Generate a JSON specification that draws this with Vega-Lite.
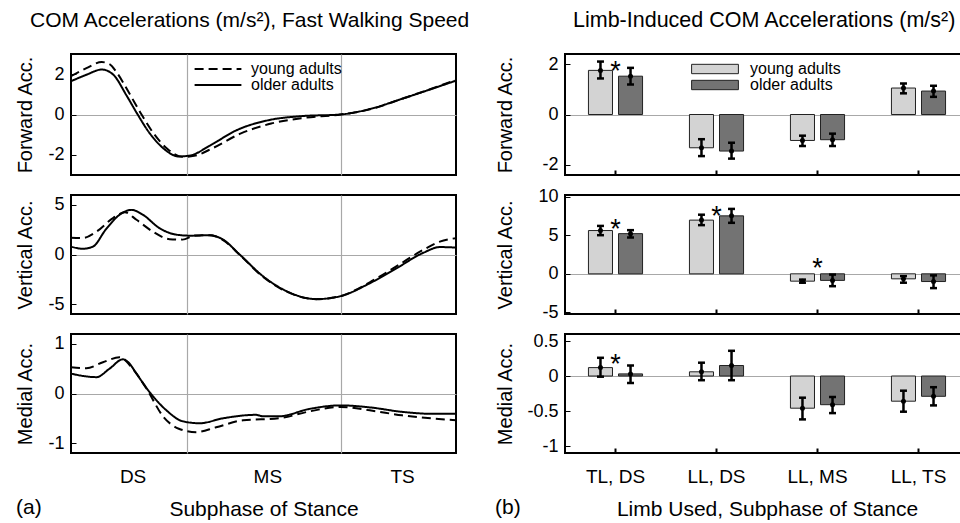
{
"$schema":"https://vega.github.io/schema/vega-lite/v6.json",
"padding":{"left":13,"top":9,"right":0,"bottom":0},
"config":{"font":"Liberation Sans","view":{"stroke":"black","strokeWidth":2},
 "axis":{"labelColor":"black","titleColor":"black","titleFontWeight":"normal","labelFontSize":18,"titleFontSize":20,"domain":false,"tickColor":"black","gridColor":"#a8a8a8","gridWidth":1.2,"labelOverlap":false},
 "title":{"fontSize":21,"fontWeight":"normal","color":"black"},
 "legend":{"labelFontSize":16,"labelColor":"black"}},
"datasets":{
"lines":[
{"p":"F","g":"older adults","x":0,"y":1.65},{"p":"F","g":"older adults","x":4,"y":1.97},{"p":"F","g":"older adults","x":8,"y":2.23},{"p":"F","g":"older adults","x":11,"y":1.97},{"p":"F","g":"older adults","x":14.4,"y":0.95},{"p":"F","g":"older adults","x":17,"y":0.1},{"p":"F","g":"older adults","x":20.4,"y":-0.92},{"p":"F","g":"older adults","x":24,"y":-1.68},{"p":"F","g":"older adults","x":28,"y":-2.08},{"p":"F","g":"older adults","x":31,"y":-2.03},{"p":"F","g":"older adults","x":36,"y":-1.55},{"p":"F","g":"older adults","x":43,"y":-0.78},{"p":"F","g":"older adults","x":51.6,"y":-0.27},{"p":"F","g":"older adults","x":60,"y":-0.08},{"p":"F","g":"older adults","x":70,"y":0.0},{"p":"F","g":"older adults","x":77.6,"y":0.27},{"p":"F","g":"older adults","x":86,"y":0.78},{"p":"F","g":"older adults","x":94,"y":1.29},{"p":"F","g":"older adults","x":100,"y":1.68},
{"p":"F","g":"young adults","x":0,"y":1.9},{"p":"F","g":"young adults","x":4,"y":2.3},{"p":"F","g":"young adults","x":8,"y":2.6},{"p":"F","g":"young adults","x":10,"y":2.5},{"p":"F","g":"young adults","x":12,"y":2.05},{"p":"F","g":"young adults","x":15,"y":1.1},{"p":"F","g":"young adults","x":18,"y":0.1},{"p":"F","g":"young adults","x":21.5,"y":-0.95},{"p":"F","g":"young adults","x":25,"y":-1.7},{"p":"F","g":"young adults","x":29,"y":-2.1},{"p":"F","g":"young adults","x":32,"y":-2.05},{"p":"F","g":"young adults","x":37,"y":-1.65},{"p":"F","g":"young adults","x":44,"y":-0.95},{"p":"F","g":"young adults","x":52,"y":-0.45},{"p":"F","g":"young adults","x":60,"y":-0.18},{"p":"F","g":"young adults","x":70,"y":0.0},{"p":"F","g":"young adults","x":78,"y":0.27},{"p":"F","g":"young adults","x":86,"y":0.78},{"p":"F","g":"young adults","x":94,"y":1.3},{"p":"F","g":"young adults","x":100,"y":1.72},
{"p":"V","g":"older adults","x":0,"y":0.8},{"p":"V","g":"older adults","x":3,"y":0.58},{"p":"V","g":"older adults","x":5.7,"y":0.8},{"p":"V","g":"older adults","x":9,"y":2.5},{"p":"V","g":"older adults","x":12.6,"y":4.0},{"p":"V","g":"older adults","x":15.7,"y":4.5},{"p":"V","g":"older adults","x":18.7,"y":4.0},{"p":"V","g":"older adults","x":23,"y":2.65},{"p":"V","g":"older adults","x":27.4,"y":2.0},{"p":"V","g":"older adults","x":31,"y":1.9},{"p":"V","g":"older adults","x":36,"y":1.95},{"p":"V","g":"older adults","x":39.5,"y":1.5},{"p":"V","g":"older adults","x":43.8,"y":0.0},{"p":"V","g":"older adults","x":49.9,"y":-2.2},{"p":"V","g":"older adults","x":56,"y":-3.7},{"p":"V","g":"older adults","x":63.7,"y":-4.5},{"p":"V","g":"older adults","x":70,"y":-4.2},{"p":"V","g":"older adults","x":77.6,"y":-2.9},{"p":"V","g":"older adults","x":84.5,"y":-1.4},{"p":"V","g":"older adults","x":91.4,"y":0.15},{"p":"V","g":"older adults","x":95.8,"y":0.75},{"p":"V","g":"older adults","x":100,"y":0.7},
{"p":"V","g":"young adults","x":0,"y":1.7},{"p":"V","g":"young adults","x":3,"y":1.65},{"p":"V","g":"young adults","x":6.6,"y":2.3},{"p":"V","g":"young adults","x":11,"y":3.7},{"p":"V","g":"young adults","x":14,"y":4.25},{"p":"V","g":"young adults","x":17,"y":3.5},{"p":"V","g":"young adults","x":21.3,"y":2.3},{"p":"V","g":"young adults","x":25.6,"y":1.55},{"p":"V","g":"young adults","x":29,"y":1.5},{"p":"V","g":"young adults","x":32,"y":1.9},{"p":"V","g":"young adults","x":36,"y":1.95},{"p":"V","g":"young adults","x":39.5,"y":1.45},{"p":"V","g":"young adults","x":44,"y":-0.1},{"p":"V","g":"young adults","x":50,"y":-2.3},{"p":"V","g":"young adults","x":56,"y":-3.75},{"p":"V","g":"young adults","x":63.7,"y":-4.5},{"p":"V","g":"young adults","x":70,"y":-4.2},{"p":"V","g":"young adults","x":77.6,"y":-2.8},{"p":"V","g":"young adults","x":84.5,"y":-1.2},{"p":"V","g":"young adults","x":91.4,"y":0.45},{"p":"V","g":"young adults","x":95.8,"y":1.3},{"p":"V","g":"young adults","x":100,"y":1.65},
{"p":"M","g":"older adults","x":0,"y":0.4},{"p":"M","g":"older adults","x":6.6,"y":0.33},{"p":"M","g":"older adults","x":10,"y":0.5},{"p":"M","g":"older adults","x":13.5,"y":0.69},{"p":"M","g":"older adults","x":15,"y":0.62},{"p":"M","g":"older adults","x":17,"y":0.4},{"p":"M","g":"older adults","x":20.4,"y":0.03},{"p":"M","g":"older adults","x":24.8,"y":-0.34},{"p":"M","g":"older adults","x":29,"y":-0.56},{"p":"M","g":"older adults","x":33.4,"y":-0.6},{"p":"M","g":"older adults","x":39.5,"y":-0.5},{"p":"M","g":"older adults","x":48,"y":-0.43},{"p":"M","g":"older adults","x":50,"y":-0.46},{"p":"M","g":"older adults","x":54,"y":-0.46},{"p":"M","g":"older adults","x":62,"y":-0.31},{"p":"M","g":"older adults","x":70,"y":-0.24},{"p":"M","g":"older adults","x":77.6,"y":-0.28},{"p":"M","g":"older adults","x":86,"y":-0.37},{"p":"M","g":"older adults","x":94,"y":-0.41},{"p":"M","g":"older adults","x":100,"y":-0.41},
{"p":"M","g":"young adults","x":0,"y":0.53},{"p":"M","g":"young adults","x":4,"y":0.51},{"p":"M","g":"young adults","x":8.3,"y":0.63},{"p":"M","g":"young adults","x":12.6,"y":0.73},{"p":"M","g":"young adults","x":16,"y":0.5},{"p":"M","g":"young adults","x":19.6,"y":0.1},{"p":"M","g":"young adults","x":24,"y":-0.47},{"p":"M","g":"young adults","x":28,"y":-0.71},{"p":"M","g":"young adults","x":32.5,"y":-0.78},{"p":"M","g":"young adults","x":37.7,"y":-0.68},{"p":"M","g":"young adults","x":44.7,"y":-0.54},{"p":"M","g":"young adults","x":54,"y":-0.5},{"p":"M","g":"young adults","x":62,"y":-0.36},{"p":"M","g":"young adults","x":70,"y":-0.27},{"p":"M","g":"young adults","x":77.6,"y":-0.34},{"p":"M","g":"young adults","x":86,"y":-0.44},{"p":"M","g":"young adults","x":100,"y":-0.54}
],
"bars":[
{"p":"F","c":"TL, DS","g":"young adults","v":1.75,"lo":1.43,"hi":2.1},
{"p":"F","c":"TL, DS","g":"older adults","v":1.52,"lo":1.19,"hi":1.85},
{"p":"F","c":"LL, DS","g":"young adults","v":-1.32,"lo":-1.65,"hi":-0.98},
{"p":"F","c":"LL, DS","g":"older adults","v":-1.45,"lo":-1.75,"hi":-1.12},
{"p":"F","c":"LL, MS","g":"young adults","v":-1.03,"lo":-1.25,"hi":-0.84},
{"p":"F","c":"LL, MS","g":"older adults","v":-1.0,"lo":-1.25,"hi":-0.76},
{"p":"F","c":"LL, TS","g":"young adults","v":1.05,"lo":0.84,"hi":1.23},
{"p":"F","c":"LL, TS","g":"older adults","v":0.93,"lo":0.7,"hi":1.14},
{"p":"V","c":"TL, DS","g":"young adults","v":5.6,"lo":5.0,"hi":6.2},
{"p":"V","c":"TL, DS","g":"older adults","v":5.2,"lo":4.7,"hi":5.65},
{"p":"V","c":"LL, DS","g":"young adults","v":6.95,"lo":6.3,"hi":7.65},
{"p":"V","c":"LL, DS","g":"older adults","v":7.5,"lo":6.6,"hi":8.4},
{"p":"V","c":"LL, MS","g":"young adults","v":-0.95,"lo":-1.15,"hi":-0.75},
{"p":"V","c":"LL, MS","g":"older adults","v":-0.85,"lo":-1.6,"hi":-0.1},
{"p":"V","c":"LL, TS","g":"young adults","v":-0.65,"lo":-1.15,"hi":-0.3},
{"p":"V","c":"LL, TS","g":"older adults","v":-1.0,"lo":-1.85,"hi":-0.2},
{"p":"M","c":"TL, DS","g":"young adults","v":0.12,"lo":-0.01,"hi":0.26},
{"p":"M","c":"TL, DS","g":"older adults","v":0.03,"lo":-0.1,"hi":0.15},
{"p":"M","c":"LL, DS","g":"young adults","v":0.06,"lo":-0.06,"hi":0.19},
{"p":"M","c":"LL, DS","g":"older adults","v":0.15,"lo":-0.06,"hi":0.36},
{"p":"M","c":"LL, MS","g":"young adults","v":-0.46,"lo":-0.62,"hi":-0.31},
{"p":"M","c":"LL, MS","g":"older adults","v":-0.41,"lo":-0.53,"hi":-0.3},
{"p":"M","c":"LL, TS","g":"young adults","v":-0.36,"lo":-0.51,"hi":-0.21},
{"p":"M","c":"LL, TS","g":"older adults","v":-0.29,"lo":-0.42,"hi":-0.16}
],
"stars":[
{"p":"F","c":"TL, DS","s":2.0},
{"p":"V","c":"TL, DS","s":6.7},
{"p":"V","c":"LL, DS","s":8.4},
{"p":"V","c":"LL, MS","s":1.65},
{"p":"M","c":"TL, DS","s":0.27}
]},
"spacing":23,
"hconcat":[
{"title":{"text":"COM Accelerations (m/s²), Fast Walking Speed","offset":22,"anchor":"start","frame":"group","dx":-41},
 "spacing":20,
 "bounds":"flush",
 "resolve":{"legend":{"strokeDash":"independent"}},
 "vconcat":[
 {"width":385,"height":121,"data":{"name":"lines"},"transform":[{"filter":"datum.p=='F'"}],
  "mark":{"type":"line","interpolate":"monotone","strokeWidth":2,"color":"black","clip":true},
  "encoding":{
   "x":{"field":"x","type":"quantitative","scale":{"domain":[0,100],"nice":false},"axis":{"values":[16,30,51,70,86],"labels":false,"title":null,"ticks":false,"grid":true,"gridOpacity":{"condition":{"test":"datum.value==30||datum.value==70","value":1},"value":0}}},
   "y":{"field":"y","type":"quantitative","scale":{"domain":[-3,3],"nice":false,"zero":false},"axis":{"values":[-2,0,2],"labelExpr":"''+datum.value","labelOverlap":false,"title":"Forward Acc.","titleX":-36,"tickSize":-5,"labelPadding":12,"grid":true,"gridOpacity":{"condition":{"test":"datum.value==0","value":1},"value":0}}},
   "strokeDash":{"field":"g","type":"nominal","scale":{"domain":["young adults","older adults"],"range":[[9,5],[1,0]]},"legend":{"orient":"none","legendX":139,"legendY":7,"title":null,"symbolType":"M-3.9,0H3.9","symbolSize":144,"symbolStrokeWidth":2,"symbolStrokeColor":"black","rowPadding":0,"labelOffset":25}}
  }},
 {"width":385,"height":119,"data":{"name":"lines"},"transform":[{"filter":"datum.p=='V'"}],
  "mark":{"type":"line","interpolate":"monotone","strokeWidth":2,"color":"black","clip":true},
  "encoding":{
   "x":{"field":"x","type":"quantitative","scale":{"domain":[0,100],"nice":false},"axis":{"values":[16,30,51,70,86],"labels":false,"title":null,"ticks":false,"grid":true,"gridOpacity":{"condition":{"test":"datum.value==30||datum.value==70","value":1},"value":0}}},
   "y":{"field":"y","type":"quantitative","scale":{"domain":[-6,6],"nice":false,"zero":false},"axis":{"values":[-5,0,5],"labelExpr":"''+datum.value","labelOverlap":false,"title":"Vertical Acc.","titleX":-36,"tickSize":-5,"labelPadding":12,"grid":true,"gridOpacity":{"condition":{"test":"datum.value==0","value":1},"value":0}}},
   "strokeDash":{"field":"g","type":"nominal","scale":{"domain":["young adults","older adults"],"range":[[9,5],[1,0]]},"legend":null}
  }},
 {"width":385,"height":119,"data":{"name":"lines"},"transform":[{"filter":"datum.p=='M'"}],
  "title":{"text":"(a)","orient":"bottom","anchor":"start","frame":"group","dx":-55,"offset":-22},
  "mark":{"type":"line","interpolate":"monotone","strokeWidth":2,"color":"black","clip":true},
  "encoding":{
   "x":{"field":"x","type":"quantitative","scale":{"domain":[0,100],"nice":false},"axis":{"values":[16,30,51,70,86],"labelExpr":"datum.value==16?'DS':datum.value==51?'MS':datum.value==86?'TS':''","labelFontSize":19,"labelPadding":14,"title":"Subphase of Stance","titleFontSize":21,"titlePadding":12,"ticks":false,"grid":true,"gridOpacity":{"condition":{"test":"datum.value==30||datum.value==70","value":1},"value":0}}},
   "y":{"field":"y","type":"quantitative","scale":{"domain":[-1.2,1.2],"nice":false,"zero":false},"axis":{"values":[-1,0,1],"labelExpr":"''+datum.value","labelOverlap":false,"title":"Medial Acc.","titleX":-36,"tickSize":-5,"labelPadding":12,"grid":true,"gridOpacity":{"condition":{"test":"datum.value==0","value":1},"value":0}}},
   "strokeDash":{"field":"g","type":"nominal","scale":{"domain":["young adults","older adults"],"range":[[9,5],[1,0]]},"legend":null}
  }}
 ]},
{"title":{"text":"Limb-Induced COM Accelerations (m/s²)","offset":22,"anchor":"start","frame":"group","dx":8,"fontSize":21.5},
 "spacing":20,
 "bounds":"flush",
 "resolve":{"legend":{"fill":"independent"}},
 "vconcat":[
 {"width":404,"height":121,"data":{"name":"bars"},"transform":[{"filter":"datum.p=='F'"}],
  "encoding":{"x":{"field":"c","type":"nominal","scale":{"domain":["TL, DS","LL, DS","LL, MS","LL, TS"],"paddingInner":0,"paddingOuter":0},"axis":{"labels":false,"title":null,"tickSize":-5,"tickWidth":2}}},
  "layer":[
   {"mark":{"type":"bar","stroke":"#222","strokeWidth":1},
    "encoding":{"xOffset":{"field":"g","type":"nominal","scale":{"domain":["young adults","older adults"],"paddingInner":0.2,"paddingOuter":0.78}},
     "y":{"field":"v","type":"quantitative","scale":{"domain":[-2.4,2.4],"nice":false},"axis":{"values":[-2,0,2],"labelExpr":"''+datum.value","labelOverlap":false,"title":"Forward Acc.","titleX":-50,"tickSize":-5,"labelPadding":12,"grid":true,"gridOpacity":{"condition":{"test":"datum.value==0","value":1},"value":0}}},
     "fill":{"field":"g","type":"nominal","scale":{"domain":["young adults","older adults"],"range":["#d3d3d3","#737373"]},"legend":{"orient":"none","legendX":142,"legendY":7,"title":null,"symbolType":"M-3.9,-0.78H3.9V0.78H-3.9Z","symbolSize":144,"symbolStrokeColor":"#222","symbolStrokeWidth":1,"symbolOpacity":1,"rowPadding":0,"labelOffset":27}}}},
   {"mark":{"type":"rule","strokeWidth":2.5,"color":"black"},"encoding":{"xOffset":{"field":"g","type":"nominal"},"y":{"field":"lo","type":"quantitative","axis":{"values":[-2,0,2],"labelExpr":"''+datum.value","labelOverlap":false,"title":"Forward Acc.","titleX":-50,"tickSize":-5,"labelPadding":12,"grid":true,"gridOpacity":{"condition":{"test":"datum.value==0","value":1},"value":0}}},"y2":{"field":"hi"}}},
   {"mark":{"type":"tick","orient":"horizontal","size":7,"thickness":2.5,"color":"black","opacity":1},"encoding":{"xOffset":{"field":"g","type":"nominal"},"y":{"field":"lo","type":"quantitative","axis":{"values":[-2,0,2],"labelExpr":"''+datum.value","labelOverlap":false,"title":"Forward Acc.","titleX":-50,"tickSize":-5,"labelPadding":12,"grid":true,"gridOpacity":{"condition":{"test":"datum.value==0","value":1},"value":0}}}}},
   {"mark":{"type":"tick","orient":"horizontal","size":7,"thickness":2.5,"color":"black","opacity":1},"encoding":{"xOffset":{"field":"g","type":"nominal"},"y":{"field":"hi","type":"quantitative","axis":{"values":[-2,0,2],"labelExpr":"''+datum.value","labelOverlap":false,"title":"Forward Acc.","titleX":-50,"tickSize":-5,"labelPadding":12,"grid":true,"gridOpacity":{"condition":{"test":"datum.value==0","value":1},"value":0}}}}},
   {"mark":{"type":"point","filled":true,"size":25,"color":"black","opacity":1},"encoding":{"xOffset":{"field":"g","type":"nominal"},"y":{"field":"v","type":"quantitative","axis":{"values":[-2,0,2],"labelExpr":"''+datum.value","labelOverlap":false,"title":"Forward Acc.","titleX":-50,"tickSize":-5,"labelPadding":12,"grid":true,"gridOpacity":{"condition":{"test":"datum.value==0","value":1},"value":0}}}}},
   {"data":{"name":"stars"},"transform":[{"filter":"datum.p=='F'"}],"mark":{"type":"text","text":"*","fontSize":27,"dy":8,"color":"black"},"encoding":{"y":{"field":"s","type":"quantitative","axis":{"values":[-2,0,2],"labelExpr":"''+datum.value","labelOverlap":false,"title":"Forward Acc.","titleX":-50,"tickSize":-5,"labelPadding":12,"grid":true,"gridOpacity":{"condition":{"test":"datum.value==0","value":1},"value":0}}}}}
  ]},
 {"width":404,"height":119,"data":{"name":"bars"},"transform":[{"filter":"datum.p=='V'"}],
  "encoding":{"x":{"field":"c","type":"nominal","scale":{"domain":["TL, DS","LL, DS","LL, MS","LL, TS"],"paddingInner":0,"paddingOuter":0},"axis":{"labels":false,"title":null,"tickSize":-5,"tickWidth":2}}},
  "layer":[
   {"mark":{"type":"bar","stroke":"#222","strokeWidth":1},
    "encoding":{"xOffset":{"field":"g","type":"nominal","scale":{"domain":["young adults","older adults"],"paddingInner":0.2,"paddingOuter":0.78}},
     "y":{"field":"v","type":"quantitative","scale":{"domain":[-5.2,10.2],"nice":false},"axis":{"values":[-5,0,5,10],"labelExpr":"''+datum.value","labelOverlap":false,"title":"Vertical Acc.","titleX":-50,"tickSize":-5,"labelPadding":12,"grid":true,"gridOpacity":{"condition":{"test":"datum.value==0","value":1},"value":0}}},
     "fill":{"field":"g","type":"nominal","scale":{"domain":["young adults","older adults"],"range":["#d3d3d3","#737373"]},"legend":null}}},
   {"mark":{"type":"rule","strokeWidth":2.5,"color":"black"},"encoding":{"xOffset":{"field":"g","type":"nominal"},"y":{"field":"lo","type":"quantitative","axis":{"values":[-5,0,5,10],"labelExpr":"''+datum.value","labelOverlap":false,"title":"Vertical Acc.","titleX":-50,"tickSize":-5,"labelPadding":12,"grid":true,"gridOpacity":{"condition":{"test":"datum.value==0","value":1},"value":0}}},"y2":{"field":"hi"}}},
   {"mark":{"type":"tick","orient":"horizontal","size":7,"thickness":2.5,"color":"black","opacity":1},"encoding":{"xOffset":{"field":"g","type":"nominal"},"y":{"field":"lo","type":"quantitative","axis":{"values":[-5,0,5,10],"labelExpr":"''+datum.value","labelOverlap":false,"title":"Vertical Acc.","titleX":-50,"tickSize":-5,"labelPadding":12,"grid":true,"gridOpacity":{"condition":{"test":"datum.value==0","value":1},"value":0}}}}},
   {"mark":{"type":"tick","orient":"horizontal","size":7,"thickness":2.5,"color":"black","opacity":1},"encoding":{"xOffset":{"field":"g","type":"nominal"},"y":{"field":"hi","type":"quantitative","axis":{"values":[-5,0,5,10],"labelExpr":"''+datum.value","labelOverlap":false,"title":"Vertical Acc.","titleX":-50,"tickSize":-5,"labelPadding":12,"grid":true,"gridOpacity":{"condition":{"test":"datum.value==0","value":1},"value":0}}}}},
   {"mark":{"type":"point","filled":true,"size":25,"color":"black","opacity":1},"encoding":{"xOffset":{"field":"g","type":"nominal"},"y":{"field":"v","type":"quantitative","axis":{"values":[-5,0,5,10],"labelExpr":"''+datum.value","labelOverlap":false,"title":"Vertical Acc.","titleX":-50,"tickSize":-5,"labelPadding":12,"grid":true,"gridOpacity":{"condition":{"test":"datum.value==0","value":1},"value":0}}}}},
   {"data":{"name":"stars"},"transform":[{"filter":"datum.p=='V'"}],"mark":{"type":"text","text":"*","fontSize":27,"dy":8,"color":"black"},"encoding":{"y":{"field":"s","type":"quantitative","axis":{"values":[-5,0,5,10],"labelExpr":"''+datum.value","labelOverlap":false,"title":"Vertical Acc.","titleX":-50,"tickSize":-5,"labelPadding":12,"grid":true,"gridOpacity":{"condition":{"test":"datum.value==0","value":1},"value":0}}}}}
  ]},
 {"width":404,"height":119,"data":{"name":"bars"},"transform":[{"filter":"datum.p=='M'"}],
  "title":{"text":"(b)","orient":"bottom","anchor":"start","frame":"group","dx":-70,"offset":-22},
  "encoding":{"x":{"field":"c","type":"nominal","scale":{"domain":["TL, DS","LL, DS","LL, MS","LL, TS"],"paddingInner":0,"paddingOuter":0},"axis":{"labelAngle":0,"labelFontSize":19,"labelPadding":19,"title":"Limb Used, Subphase of Stance","titleFontSize":21,"titlePadding":12,"tickSize":-5,"tickWidth":2}}},
  "layer":[
   {"mark":{"type":"bar","stroke":"#222","strokeWidth":1},
    "encoding":{"xOffset":{"field":"g","type":"nominal","scale":{"domain":["young adults","older adults"],"paddingInner":0.2,"paddingOuter":0.78}},
     "y":{"field":"v","type":"quantitative","scale":{"domain":[-1.1,0.6],"nice":false},"axis":{"values":[-1,-0.5,0,0.5],"labelExpr":"''+datum.value","labelOverlap":false,"title":"Medial Acc.","titleX":-50,"tickSize":-5,"labelPadding":12,"grid":true,"gridOpacity":{"condition":{"test":"datum.value==0","value":1},"value":0}}},
     "fill":{"field":"g","type":"nominal","scale":{"domain":["young adults","older adults"],"range":["#d3d3d3","#737373"]},"legend":null}}},
   {"mark":{"type":"rule","strokeWidth":2.5,"color":"black"},"encoding":{"xOffset":{"field":"g","type":"nominal"},"y":{"field":"lo","type":"quantitative","axis":{"values":[-1,-0.5,0,0.5],"labelExpr":"''+datum.value","labelOverlap":false,"title":"Medial Acc.","titleX":-50,"tickSize":-5,"labelPadding":12,"grid":true,"gridOpacity":{"condition":{"test":"datum.value==0","value":1},"value":0}}},"y2":{"field":"hi"}}},
   {"mark":{"type":"tick","orient":"horizontal","size":7,"thickness":2.5,"color":"black","opacity":1},"encoding":{"xOffset":{"field":"g","type":"nominal"},"y":{"field":"lo","type":"quantitative","axis":{"values":[-1,-0.5,0,0.5],"labelExpr":"''+datum.value","labelOverlap":false,"title":"Medial Acc.","titleX":-50,"tickSize":-5,"labelPadding":12,"grid":true,"gridOpacity":{"condition":{"test":"datum.value==0","value":1},"value":0}}}}},
   {"mark":{"type":"tick","orient":"horizontal","size":7,"thickness":2.5,"color":"black","opacity":1},"encoding":{"xOffset":{"field":"g","type":"nominal"},"y":{"field":"hi","type":"quantitative","axis":{"values":[-1,-0.5,0,0.5],"labelExpr":"''+datum.value","labelOverlap":false,"title":"Medial Acc.","titleX":-50,"tickSize":-5,"labelPadding":12,"grid":true,"gridOpacity":{"condition":{"test":"datum.value==0","value":1},"value":0}}}}},
   {"mark":{"type":"point","filled":true,"size":25,"color":"black","opacity":1},"encoding":{"xOffset":{"field":"g","type":"nominal"},"y":{"field":"v","type":"quantitative","axis":{"values":[-1,-0.5,0,0.5],"labelExpr":"''+datum.value","labelOverlap":false,"title":"Medial Acc.","titleX":-50,"tickSize":-5,"labelPadding":12,"grid":true,"gridOpacity":{"condition":{"test":"datum.value==0","value":1},"value":0}}}}},
   {"data":{"name":"stars"},"transform":[{"filter":"datum.p=='M'"}],"mark":{"type":"text","text":"*","fontSize":27,"dy":8,"color":"black"},"encoding":{"y":{"field":"s","type":"quantitative","axis":{"values":[-1,-0.5,0,0.5],"labelExpr":"''+datum.value","labelOverlap":false,"title":"Medial Acc.","titleX":-50,"tickSize":-5,"labelPadding":12,"grid":true,"gridOpacity":{"condition":{"test":"datum.value==0","value":1},"value":0}}}}}
  ]}
 ]}
]
}
